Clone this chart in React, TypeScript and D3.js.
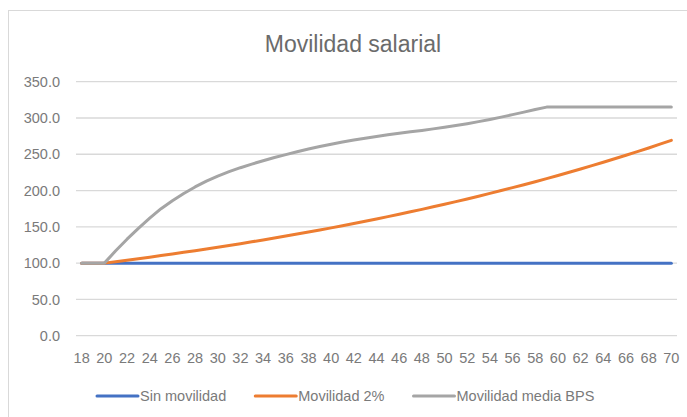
import { useRef, useEffect } from "react";
import * as d3 from "d3";

const ages = [
  18, 19, 20, 21, 22, 23, 24, 25, 26, 27, 28, 29, 30, 31, 32, 33, 34, 35, 36,
  37, 38, 39, 40, 41, 42, 43, 44, 45, 46, 47, 48, 49, 50, 51, 52, 53, 54, 55,
  56, 57, 58, 59, 60, 61, 62, 63, 64, 65, 66, 67, 68, 69, 70,
];

const sinMovilidad = [
  100, 100, 100, 100, 100, 100, 100, 100, 100, 100, 100, 100, 100, 100, 100,
  100, 100, 100, 100, 100, 100, 100, 100, 100, 100, 100, 100, 100, 100, 100,
  100, 100, 100, 100, 100, 100, 100, 100, 100, 100, 100, 100, 100, 100, 100,
  100, 100, 100, 100, 100, 100, 100, 100,
];

const movilidad2 = [
  100.0, 100.0, 100.0, 102.0, 104.0, 106.1, 108.2, 110.4, 112.6, 114.9, 117.2,
  119.5, 121.9, 124.3, 126.8, 129.4, 131.9, 134.6, 137.3, 140.0, 142.8, 145.7,
  148.6, 151.6, 154.6, 157.7, 160.8, 164.1, 167.3, 170.7, 174.1, 177.6, 181.1,
  184.8, 188.4, 192.2, 196.1, 200.0, 204.0, 208.1, 212.2, 216.5, 220.8, 225.2,
  229.7, 234.3, 239.0, 243.8, 248.7, 253.6, 258.7, 263.9, 269.2,
];

const movilidadBPS = [
  100, 100, 100, 117, 133, 148, 162, 175, 186, 196, 205, 213, 220, 226, 231.5,
  236.5, 241, 245.5, 249.5, 253.5, 257.2, 260.6, 263.8, 266.8, 269.6, 272.2,
  274.6, 276.8, 278.9, 280.9, 282.9, 285, 287.2, 289.6, 292.2, 295, 298, 301.2,
  304.6, 308.1, 311.6, 315, 315, 315, 315, 315, 315, 315, 315, 315, 315, 315,
  315,
];

const yTicks = [0, 50, 100, 150, 200, 250, 300, 350];
const xTickLabels = [
  18, 20, 22, 24, 26, 28, 30, 32, 34, 36, 38, 40, 42, 44, 46, 48, 50, 52, 54,
  56, 58, 60, 62, 64, 66, 68, 70,
];

const seriesNames = ["Sin movilidad", "Movilidad 2%", "Movilidad media BPS"];
const seriesColors = ["#4472C4", "#ED7D31", "#A5A5A5"];

const W = 687;
const H = 417;
const FONT = "'Liberation Sans', Arial, sans-serif";
const TEXT = "#7a7a7a";

export default function App() {
  const ref = useRef<SVGSVGElement | null>(null);

  useEffect(() => {
    const svg = d3.select(ref.current);
    svg.selectAll("*").remove();

    const plot = { left: 76, right: 677, top: 81.7, bottom: 335.7 };

    const x = d3
      .scalePoint<number>()
      .domain(ages)
      .range([plot.left, plot.right])
      .padding(0.5);

    const y = d3
      .scaleLinear()
      .domain([0, 350])
      .range([plot.bottom, plot.top]);

    // marco del gráfico
    svg
      .append("rect")
      .attr("x", 8.5)
      .attr("y", 10.5)
      .attr("width", 720)
      .attr("height", 440)
      .attr("fill", "#fff")
      .attr("stroke", "#d9d9d9");

    // título
    svg
      .append("text")
      .attr("x", 353)
      .attr("y", 52)
      .attr("text-anchor", "middle")
      .attr("font-family", FONT)
      .attr("font-size", 23)
      .attr("fill", "#6b6b6b")
      .text("Movilidad salarial");

    // líneas de cuadrícula
    svg
      .append("g")
      .selectAll("line")
      .data(yTicks)
      .join("line")
      .attr("x1", plot.left)
      .attr("x2", plot.right)
      .attr("y1", (d) => y(d))
      .attr("y2", (d) => y(d))
      .attr("stroke", "#d9d9d9")
      .attr("stroke-width", 1.3);

    // etiquetas eje Y
    svg
      .append("g")
      .selectAll("text")
      .data(yTicks)
      .join("text")
      .attr("x", 60)
      .attr("y", (d) => y(d))
      .attr("dy", "0.36em")
      .attr("text-anchor", "end")
      .attr("font-family", FONT)
      .attr("font-size", 14.5)
      .attr("fill", TEXT)
      .text((d) => d.toFixed(1));

    // etiquetas eje X
    svg
      .append("g")
      .selectAll("text")
      .data(xTickLabels)
      .join("text")
      .attr("x", (d) => x(d)!)
      .attr("y", 358)
      .attr("dy", "0.36em")
      .attr("text-anchor", "middle")
      .attr("font-family", FONT)
      .attr("font-size", 14.5)
      .attr("fill", TEXT)
      .text((d) => String(d));

    // series
    const series = [sinMovilidad, movilidad2, movilidadBPS];
    const line = d3
      .line<number>()
      .x((_, i) => x(ages[i])!)
      .y((d) => y(d));

    series.forEach((values, i) => {
      svg
        .append("path")
        .datum(values)
        .attr("fill", "none")
        .attr("stroke", seriesColors[i])
        .attr("stroke-width", 3)
        .attr("stroke-linejoin", "round")
        .attr("stroke-linecap", "round")
        .attr("d", line);
    });

    // leyenda
    const legend = svg.append("g");
    let lx = 97;
    const ly = 396;
    seriesNames.forEach((name, i) => {
      legend
        .append("line")
        .attr("x1", lx)
        .attr("x2", lx + 41)
        .attr("y1", ly)
        .attr("y2", ly)
        .attr("stroke", seriesColors[i])
        .attr("stroke-width", 3)
        .attr("stroke-linecap", "round");
      const t = legend
        .append("text")
        .attr("x", lx + 43)
        .attr("y", ly)
        .attr("dy", "0.36em")
        .attr("font-family", FONT)
        .attr("font-size", 14.5)
        .attr("fill", TEXT)
        .text(name);
      const w = (t.node() as SVGTextElement).getComputedTextLength();
      lx = lx + 43 + w + 29;
    });
  }, []);

  return (
    <svg
      ref={ref}
      width={W}
      height={H}
      style={{ position: "absolute", left: 0, top: 0 }}
    ></svg>
  );
}
